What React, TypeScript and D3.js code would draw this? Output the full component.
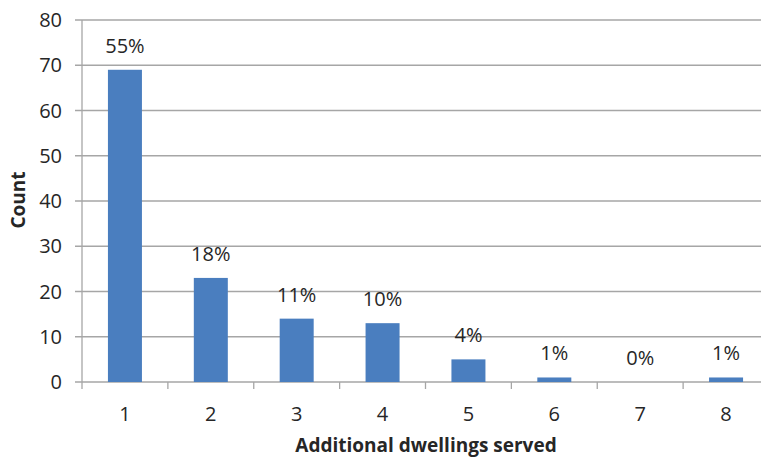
import React from "react";
import * as d3 from "d3";

const categories = ["1", "2", "3", "4", "5", "6", "7", "8"];
const counts = [69, 23, 14, 13, 5, 1, 0, 1];
const percentLabels = ["55%", "18%", "11%", "10%", "4%", "1%", "0%", "1%"];
const yTicks = [0, 10, 20, 30, 40, 50, 60, 70, 80];

const W = 761;
const H = 457;
const left = 82;
const right = 769;
const top = 20;
const bottom = 382;
const font = "'Open Sans', 'Liberation Sans', sans-serif";
const textColor = "#262626";

export default function App() {
  const xOuter = d3.scaleBand<string>().domain(categories).range([left, right]);
  const y = d3.scaleLinear().domain([0, 80]).range([bottom, top]);
  const bw = 34;

  return (
    <svg width={W} height={H} style={{ position: "absolute", left: 0, top: 0, background: "#fff" }}>
      {yTicks.map((t) => (
        <g key={t}>
          <line x1={left - 7} x2={right} y1={y(t)} y2={y(t)} stroke="#a6a6a6" strokeWidth={1.3} />
          <text x={left - 20} y={y(t)} dy="0.36em" textAnchor="end" fontFamily={font} fontSize={20} fill={textColor}>
            {t}
          </text>
        </g>
      ))}
      <line x1={left} x2={left} y1={top} y2={bottom} stroke="#a6a6a6" strokeWidth={1.3} />
      {categories.map((c) => (
        <line key={"t" + c} x1={xOuter(c)!} x2={xOuter(c)!} y1={bottom} y2={bottom + 7} stroke="#a6a6a6" strokeWidth={1.3} />
      ))}
      {categories.map((c, i) => {
        const cx = xOuter(c)! + xOuter.bandwidth() / 2;
        return (
          <g key={c}>
            <rect x={cx - bw / 2} y={y(counts[i])} width={bw} height={bottom - y(counts[i])} fill="#4a7ebf" />
            <text x={cx} y={y(counts[i]) - 17} textAnchor="middle" fontFamily={font} fontSize={20} fill={textColor}>
              {percentLabels[i]}
            </text>
            <text x={cx} y={bottom + 39} textAnchor="middle" fontFamily={font} fontSize={20} fill={textColor}>
              {c}
            </text>
          </g>
        );
      })}
      <text x={426} y={452} textAnchor="middle" fontFamily={font} fontSize={19} fontWeight="bold" fill={textColor}>
        Additional dwellings served
      </text>
      <text transform={`translate(25, 200) rotate(-90)`} textAnchor="middle" fontFamily={font} fontSize={19} fontWeight="bold" fill={textColor}>
        Count
      </text>
    </svg>
  );
}
